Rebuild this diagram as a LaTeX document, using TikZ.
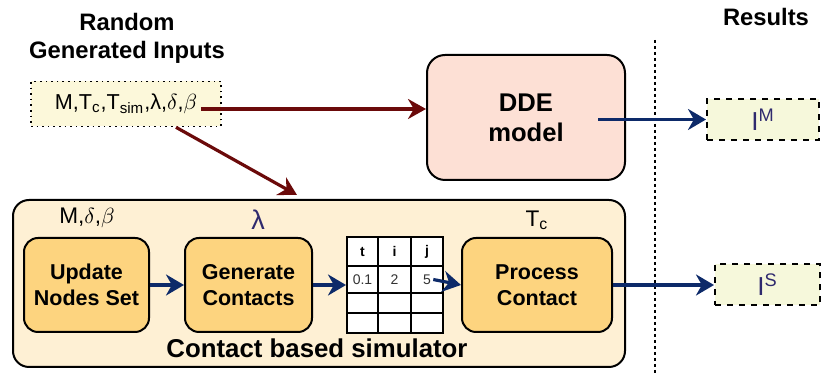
\documentclass[tikz,border=0pt]{standalone}
\usepackage{fontspec}
\setmainfont{Liberation Sans}
\usetikzlibrary{arrows.meta}
\definecolor{inpfill}{HTML}{FCF8DA}
\definecolor{ddefill}{HTML}{FDE0D5}
\definecolor{simfill}{HTML}{FEF0D4}
\definecolor{stepfill}{HTML}{FDD47F}
\definecolor{outfill}{HTML}{F6F8DB}
\definecolor{redline}{HTML}{6B0A0A}
\definecolor{blueline}{HTML}{0D2A69}
\definecolor{purpletext}{HTML}{2F2A6E}
\begin{document}
\begin{tikzpicture}[x=0.5pt,y=-0.5pt,
  inpbox/.style={draw,dotted,line width=0.8pt,fill=inpfill,minimum width=95pt,minimum height=22.5pt,inner sep=0pt,font=\fontsize{10.8}{12}\selectfont},
  ddebox/.style={draw,line width=1pt,rounded corners=9pt,fill=ddefill,minimum width=99pt,minimum height=62.5pt,align=center,font=\bfseries\fontsize{12.8}{15}\selectfont},
  simbox/.style={draw,line width=1pt,rounded corners=8pt,fill=simfill,minimum width=306pt,minimum height=83.5pt},
  stepbox/.style={draw,line width=1pt,rounded corners=7pt,fill=stepfill,minimum height=47pt,align=center,font=\bfseries\fontsize{10.75}{13}\selectfont},
  outbox/.style={draw,dashed,line width=1pt,fill=outfill,minimum height=20.5pt,text=purpletext,font=\rmfamily\fontsize{13}{15}\selectfont},
  title/.style={align=center,font=\bfseries\fontsize{11.9}{14}\selectfont},
  param/.style={font=\fontsize{11.3}{13}\selectfont},
  cell/.style={font=\fontsize{7}{8}\selectfont,inner sep=1pt},
  redarrow/.style={-{Stealth[length=9pt,width=10pt]},line width=1.6pt,redline},
  bluearrow/.style={-{Stealth[length=9pt,width=10.5pt]},line width=1.6pt,blueline}]
\useasboundingbox (0,0) rectangle (821,373);

\node[title] (rgi) at (127,38) {Random\\Generated Inputs};
\node[title] (res) at (766,17) {Results};
\node[inpbox] (inp) at (126,104) {M,T\textsubscript{c},T\textsubscript{sim},λ,$\delta$,$\beta$};

\node[ddebox] (dde) at (526,117.5) {DDE\\model};

\node[simbox] (sim) at (319,283.5) {};
\node[param] (pmdb) at (87,218) {M,$\delta$,$\beta$};
\node[param,text=purpletext,font=\fontsize{13.5}{15}\selectfont] (plam) at (258,220) {λ};
\node[param] (ptc) at (537,220) {T\textsubscript{c}};

\node[stepbox,minimum width=62.5pt] (upd) at (86.5,285) {Update\\Nodes Set};
\node[stepbox,minimum width=63.5pt] (gen) at (248.5,285) {Generate\\Contacts};
\node[stepbox,minimum width=75pt] (proc) at (537,285) {Process\\Contact};

\node[draw,line width=1pt,fill=white,minimum width=48pt,minimum height=48pt] (tbl) at (395,285) {};
\foreach \x in {378,411} \draw[line width=1pt] (\x,237) -- (\x,333);
\foreach \y in {266,293,313} \draw[line width=1pt] (347,\y) -- (443,\y);
\node[cell,font=\bfseries\fontsize{7}{8}\selectfont] (ht) at (362.5,251.5) {t};
\node[cell,font=\bfseries\fontsize{7}{8}\selectfont] (hi) at (394.5,251.5) {i};
\node[cell,font=\bfseries\fontsize{7}{8}\selectfont] (hj) at (427,251.5) {j};
\node[cell,text=black!80] (c1) at (362.5,279.5) {0.1};
\node[cell,text=black!80] (c2) at (394.5,279.5) {2};
\node[cell,text=black!80] (c5) at (427,279.5) {5};

\node[title,font=\bfseries\fontsize{12.9}{15}\selectfont] (simlbl) at (317,348) {Contact based simulator};

\draw[line width=1pt,dash pattern=on 1.5pt off 1.5pt] (655,40) -- (655,373);

\node[outbox,minimum width=56pt] (outm) at (763,119.5) {I\textsuperscript{M}};
\node[outbox,minimum width=52.5pt] (outs) at (767.5,285) {I\textsuperscript{S}};

\draw[redarrow] ([xshift=-10.5pt,yshift=-2.5pt]inp.east) -- ([yshift=4.25pt]dde.west);
\draw[redarrow] ([xshift=25pt]inp.south) -- ([xshift=-11pt,yshift=2pt]sim.north);
\draw[bluearrow] ([xshift=36pt,yshift=-1pt]dde.center) -- (outm.west);
\draw[bluearrow] (upd.east) -- (gen.west);
\draw[bluearrow] (gen.east) -- (tbl.west);
\draw[bluearrow] (c5.east) -- (proc.west);
\draw[bluearrow] (proc.east) -- (outs.west);
\end{tikzpicture}
\end{document}
